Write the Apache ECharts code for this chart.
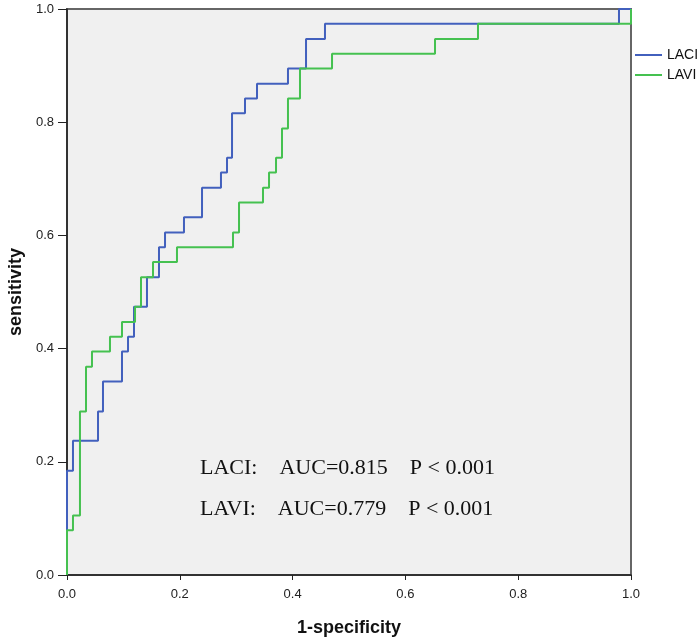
<!DOCTYPE html>
<html lang="zh-CN">
<head>
<meta charset="UTF-8">
<title>ROC曲线 LACI / LAVI</title>
<script src="https://cdn.jsdelivr.net/npm/echarts/dist/echarts.min.js"></script>
<style>
    html, body { margin: 0; padding: 0; background: #fff; }
    #roc-chart { width: 700px; height: 641px; }
</style>
</head>
<body>
<div id="roc-chart"></div>
<script>
// 坐标轴刻度（两轴相同）
const axisTicks = [0, 0.2, 0.4, 0.6, 0.8, 1.0];

// 系列名称
const seriesNames = ['LACI', 'LAVI'];

// LACI 曲线的 ROC 点：1-特异度 / 敏感度（阶梯在每个点处上升）
const laciFpr = [0, 0, 0.0106, 0.0550, 0.0638, 0.0975, 0.1082, 0.1188, 0.1418, 0.1631, 0.1738,
                 0.2074, 0.2394, 0.2730, 0.2837, 0.2926, 0.3156, 0.3369, 0.3918, 0.4238, 0.4574,
                 0.9787, 1.0];
const laciTpr = [0, 0.184, 0.237, 0.289, 0.342, 0.395, 0.421, 0.474, 0.526, 0.579, 0.605,
                 0.632, 0.684, 0.711, 0.737, 0.816, 0.842, 0.868, 0.895, 0.947, 0.974,
                 1.0, 1.0];

// LAVI 曲线的 ROC 点
const laviFpr = [0, 0, 0.0106, 0.0230, 0.0337, 0.0443, 0.0762, 0.0975, 0.1206, 0.1312, 0.1525,
                 0.1950, 0.2943, 0.3050, 0.3475, 0.3582, 0.3706, 0.3812, 0.3918, 0.4131, 0.4699,
                 0.6525, 0.7287, 1.0];
const laviTpr = [0, 0.079, 0.105, 0.289, 0.368, 0.395, 0.421, 0.447, 0.474, 0.526, 0.553,
                 0.579, 0.605, 0.658, 0.684, 0.711, 0.737, 0.789, 0.842, 0.895, 0.921,
                 0.947, 0.974, 1.0];

// 图中标注的 AUC 文本
const aucTexts = [
    'LACI:    AUC=0.815    P < 0.001',
    'LAVI:    AUC=0.779    P < 0.001'
];

document.addEventListener('DOMContentLoaded', () => {
    const chartDom = document.getElementById('roc-chart');
    if (!chartDom) return;
    const myChart = echarts.init(chartDom);

    // 把两组数组拼成 [x, y] 点
    const toPoints = (xs, ys) => xs.map((x, i) => [x, ys[i]]);

    const sansFont = 'Arial, "Liberation Sans", sans-serif';
    const serifFont = '"Times New Roman", "Liberation Serif", serif';

    // 两个坐标轴的共同配置
    const baseAxis = {
        type: 'value',
        min: axisTicks[0],
        max: axisTicks[axisTicks.length - 1],
        interval: 0.2,
        nameLocation: 'middle',
        nameTextStyle: {
            fontFamily: sansFont,
            fontWeight: 'bold',
            fontSize: 18,
            color: '#111'
        },
        axisLine: { show: true, lineStyle: { color: '#222', width: 1.5 } },
        axisTick: { show: true, inside: false, lineStyle: { color: '#222', width: 1 } },
        axisLabel: {
            fontFamily: sansFont,
            fontSize: 13,
            color: '#222',
            formatter: v => v.toFixed(1)
        },
        splitLine: { show: false }
    };

    const option = {
        animation: false,
        backgroundColor: '#fff',
        grid: {
            left: 67,
            top: 9,
            width: 564,
            height: 566,
            containLabel: false,
            outerBoundsMode: 'none',
            show: true,
            backgroundColor: '#f0f0f0',
            borderColor: '#666',
            borderWidth: 2
        },
        legend: {
            data: seriesNames,
            orient: 'vertical',
            left: 635,
            top: 48,
            padding: 0,
            itemGap: 6,
            icon: 'rect',
            itemWidth: 27,
            itemHeight: 2,
            textStyle: { fontFamily: sansFont, fontSize: 14, color: '#111' }
        },
        xAxis: Object.assign({}, baseAxis, {
            name: '1-specificity',
            nameGap: 44,
            axisTick: Object.assign({}, baseAxis.axisTick, { length: 5 }),
            axisLabel: Object.assign({}, baseAxis.axisLabel, { margin: 13 })
        }),
        yAxis: Object.assign({}, baseAxis, {
            name: 'sensitivity',
            nameGap: 37,
            axisTick: Object.assign({}, baseAxis.axisTick, { length: 9 }),
            axisLabel: Object.assign({}, baseAxis.axisLabel, { margin: 13 })
        }),
        series: [
            {
                name: seriesNames[0],
                type: 'line',
                step: 'end',
                symbol: 'none',
                data: toPoints(laciFpr, laciTpr),
                itemStyle: { color: '#4260bd' },
                lineStyle: { color: '#4260bd', width: 2 },
                z: 3
            },
            {
                name: seriesNames[1],
                type: 'line',
                step: 'end',
                symbol: 'none',
                data: toPoints(laviFpr, laviTpr),
                itemStyle: { color: '#45c150' },
                lineStyle: { color: '#45c150', width: 2 },
                z: 4
            }
        ],
        // AUC 标注文字
        graphic: aucTexts.map((t, i) => ({
            type: 'text',
            left: 200,
            top: 457 + i * 41,
            z: 10,
            style: {
                text: t,
                font: '22px ' + serifFont,
                fill: '#111'
            }
        }))
    };

    myChart.setOption(option);
});
</script>
</body>
</html>
